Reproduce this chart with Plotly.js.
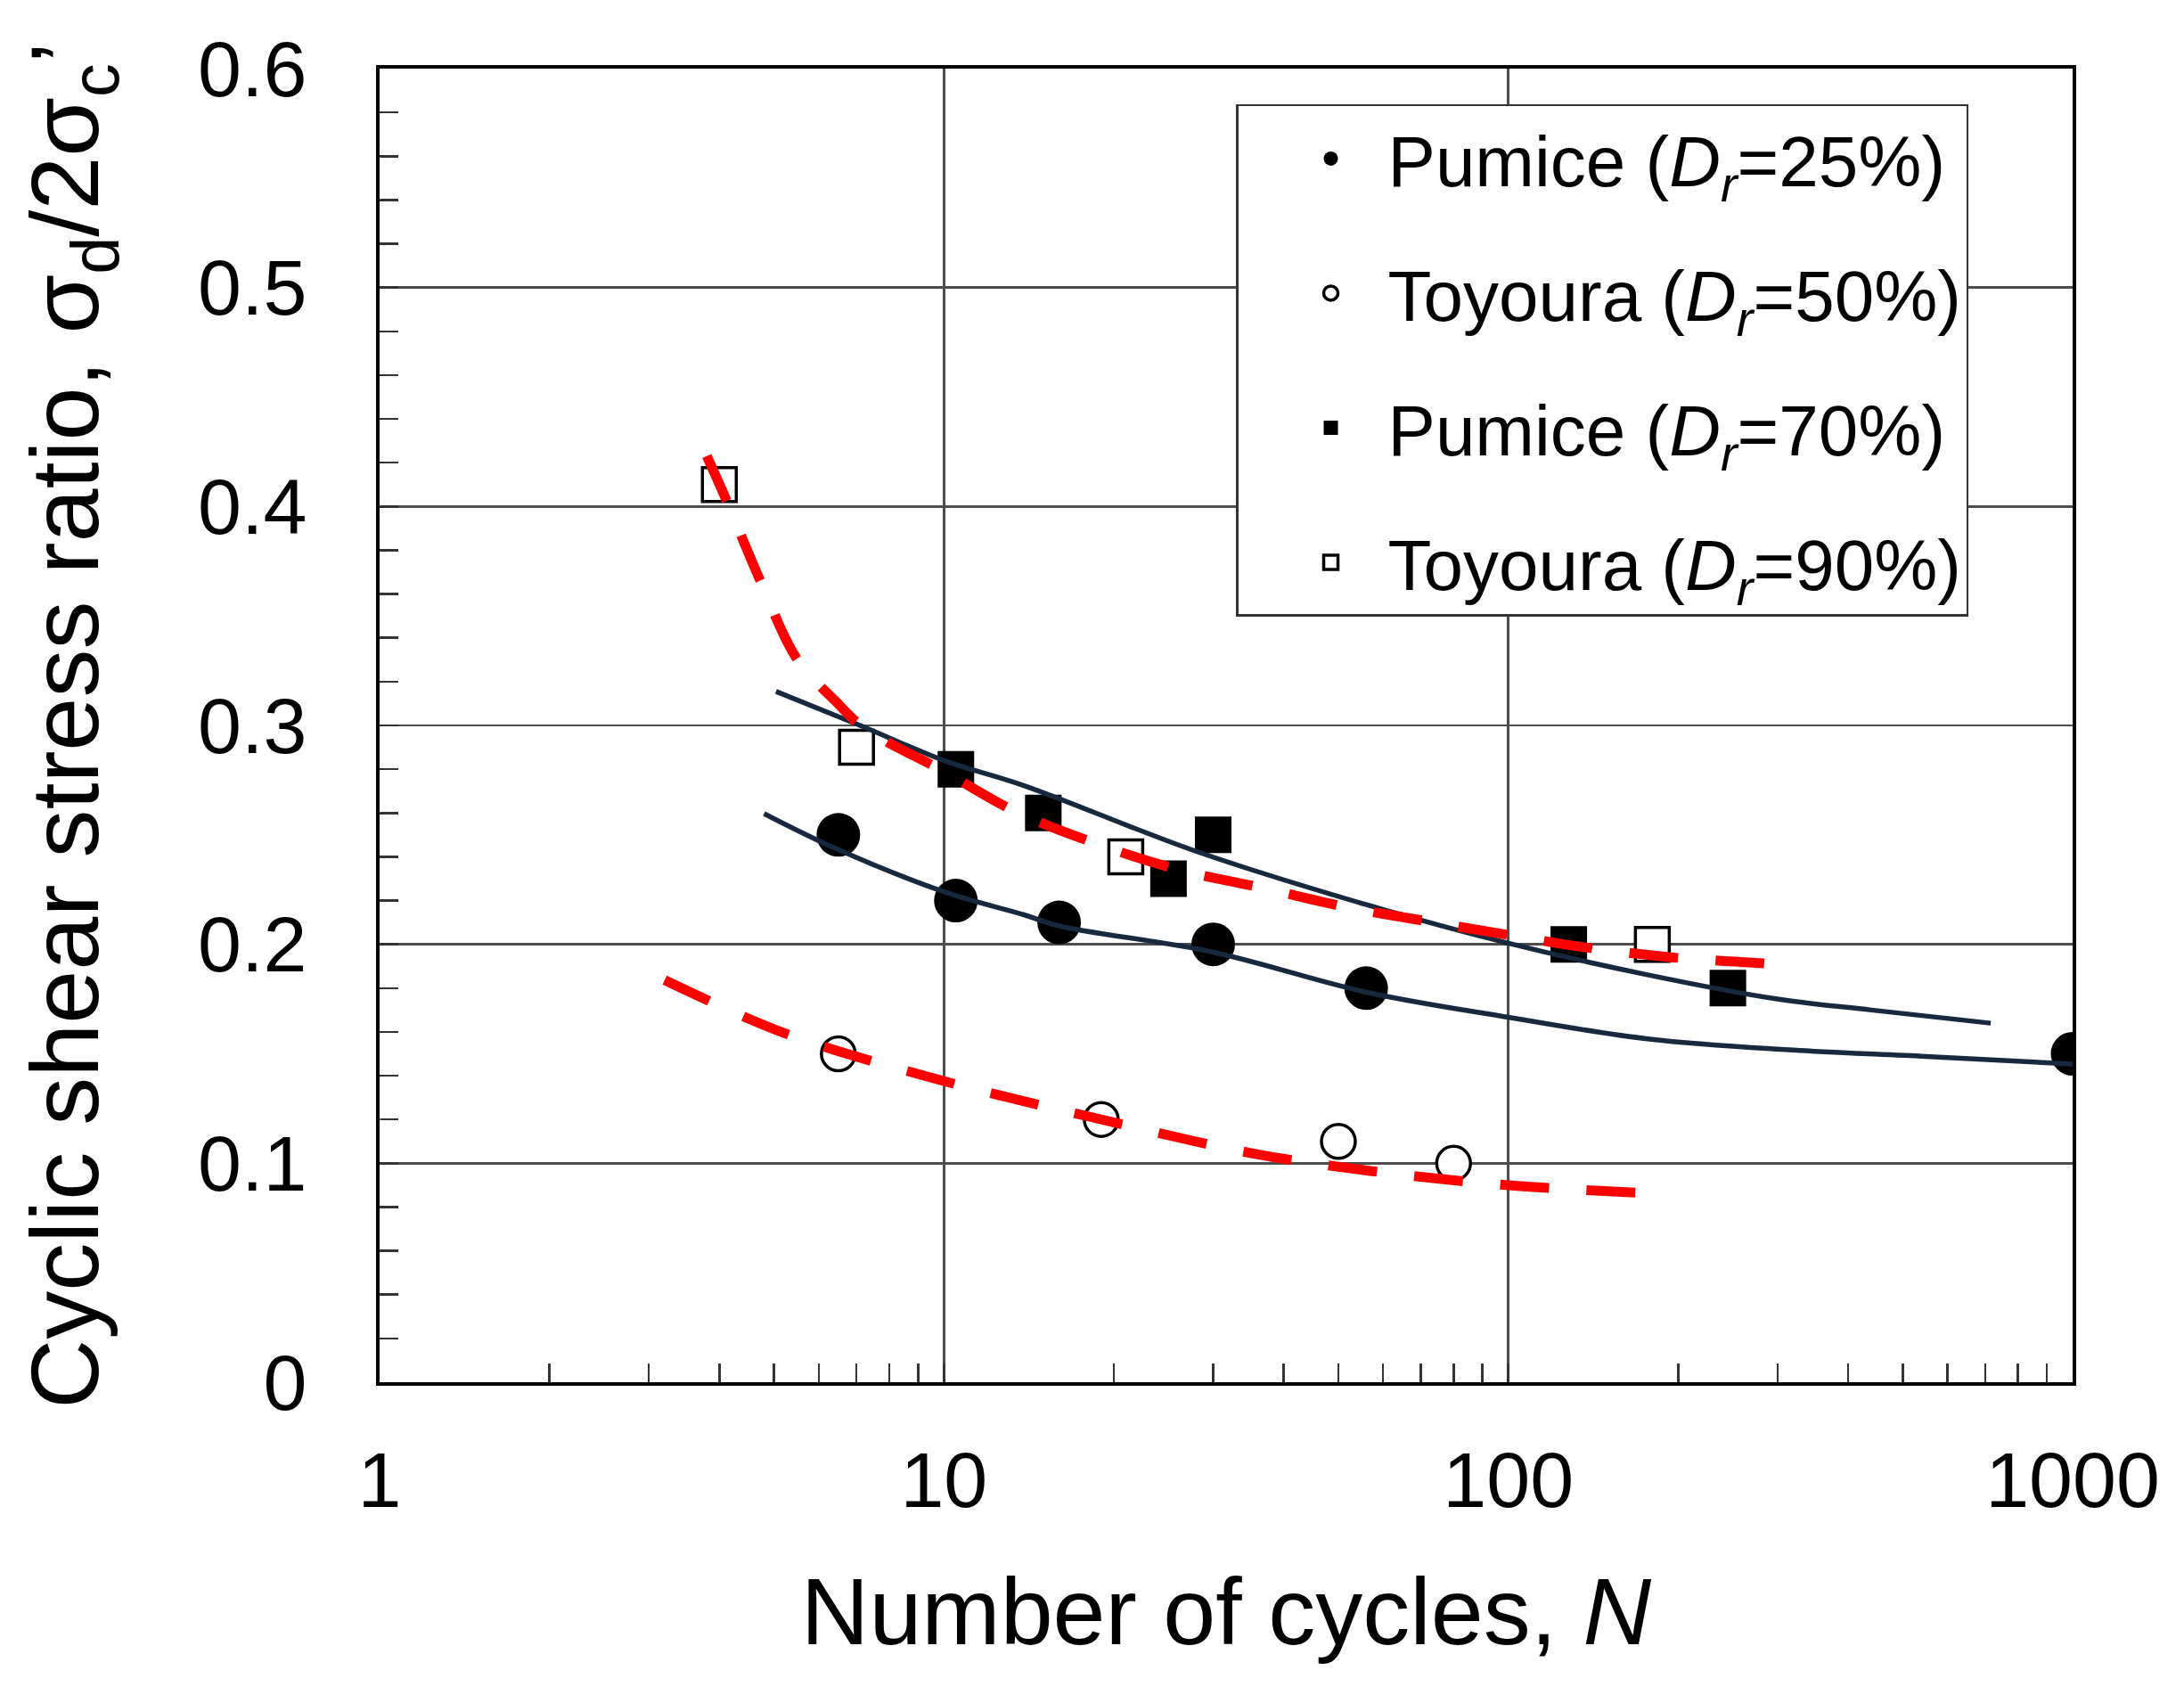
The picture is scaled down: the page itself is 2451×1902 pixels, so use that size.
<!DOCTYPE html>
<html>
<head>
<meta charset="utf-8">
<script src="https://cdn.plot.ly/plotly-3.0.1.min.js"></script>
<style>html,body{margin:0;padding:0;background:#fff;}#chart{width:2451px;height:1902px;}</style>
</head>
<body>
<div id="chart"></div>
<script>
// ---- Data ----
// Measured points
const pumice25N   = [6.5, 10.5, 16, 30, 56, 1000];
const pumice25CSR = [0.25, 0.22, 0.21, 0.20, 0.18, 0.15];

const toyoura50N   = [6.5, 19, 50, 80];
const toyoura50CSR = [0.15, 0.12, 0.11, 0.10];

const pumice70N   = [10.5, 15, 25, 30, 128, 245];
const pumice70CSR = [0.28, 0.26, 0.23, 0.25, 0.20, 0.18];

const toyoura90N   = [4.0, 7.0, 21, 180];
const toyoura90CSR = [0.41, 0.29, 0.24, 0.20];

// Fitted curves
const fitPumice25N   = [4.8, 6.4, 10, 13.9, 16, 29.9, 55.9, 100, 178, 314, 550, 1000];
const fitPumice25CSR = [0.2597, 0.244, 0.224, 0.2134, 0.2084, 0.1965, 0.1782, 0.1667, 0.1567, 0.1518, 0.1488, 0.1453];

const fitPumice70N   = [5.04, 7.1, 10, 13.9, 27.9, 55.9, 100, 175, 300, 440, 716];
const fitPumice70CSR = [0.3155, 0.300, 0.284, 0.2724, 0.2426, 0.2182, 0.2005, 0.1863, 0.175, 0.170, 0.164];

const fitToyoura90N   = [3.8, 4.13, 4.71, 5.5, 6.43, 7.2, 10, 13.3, 18.3, 25.7, 36.9, 52.2, 73.8, 106, 137, 196, 280, 309];
const fitToyoura90CSR = [0.423, 0.402, 0.367, 0.330, 0.311, 0.299, 0.279, 0.261, 0.2467, 0.2345, 0.2256, 0.2168, 0.210, 0.2032, 0.1986, 0.194, 0.1914, 0.1904];

const fitToyoura50N   = [3.2, 5.27, 9.85, 15.1, 18.3, 35.1, 57, 100, 178];
const fitToyoura50CSR = [0.1837, 0.159, 0.138, 0.126, 0.121, 0.1046, 0.0965, 0.090, 0.0863];

// Tick labels
const xTickVals = [1, 10, 100, 1000];
const xTickText = ['1', '10', '100', '1000'];
const xMinorVals = [2,3,4,5,6,7,8,9,20,30,40,50,60,70,80,90,200,300,400,500,600,700,800,900];
const yTickVals = [0, 0.1, 0.2, 0.3, 0.4, 0.5, 0.6];
const yTickText = ['0', '0.1', '0.2', '0.3', '0.4', '0.5', '0.6'];

const seriesNames = [
  'Pumice (<i>D<sub>r</sub></i>=25%)',
  'Toyoura (<i>D<sub>r</sub></i>=50%)',
  'Pumice (<i>D<sub>r</sub></i>=70%)',
  'Toyoura (<i>D<sub>r</sub></i>=90%)'
];

// ---- Styles ----
const FONT = 'Liberation Sans, Arial, sans-serif';
const navy = '#17293f';
const red = 'rgb(255,0,0)';

const traces = [
  {x: pumice25N, y: pumice25CSR, name: seriesNames[0], legendgroup: 'g1', mode: 'markers', type: 'scatter',
   marker: {symbol: 'circle', size: 49, color: '#000', line: {width: 0}}},
  {x: toyoura50N, y: toyoura50CSR, name: seriesNames[1], legendgroup: 'g2', mode: 'markers', type: 'scatter',
   marker: {symbol: 'circle', size: 38, color: '#fff', line: {width: 3.5, color: '#000'}}},
  {x: pumice70N, y: pumice70CSR, name: seriesNames[2], legendgroup: 'g3', mode: 'markers', type: 'scatter',
   marker: {symbol: 'square', size: 41, color: '#000', line: {width: 0}}},
  {x: toyoura90N, y: toyoura90CSR, name: seriesNames[3], legendgroup: 'g4', mode: 'markers', type: 'scatter',
   marker: {symbol: 'square', size: 38, color: '#fff', line: {width: 3.5, color: '#000'}}},

  {x: fitPumice25N, y: fitPumice25CSR, mode: 'lines', type: 'scatter', showlegend: false, hoverinfo: 'skip',
   line: {color: navy, width: 5.5, shape: 'spline', smoothing: 1}},
  {x: fitPumice70N, y: fitPumice70CSR, mode: 'lines', type: 'scatter', showlegend: false, hoverinfo: 'skip',
   line: {color: navy, width: 5.5, shape: 'spline', smoothing: 1}},
  {x: fitToyoura90N, y: fitToyoura90CSR, mode: 'lines', type: 'scatter', showlegend: false, hoverinfo: 'skip',
   line: {color: red, width: 11, dash: '55px,42px', shape: 'spline', smoothing: 1}},
  {x: fitToyoura50N, y: fitToyoura50CSR, mode: 'lines', type: 'scatter', showlegend: false, hoverinfo: 'skip',
   line: {color: red, width: 11, dash: '55px,42px', shape: 'spline', smoothing: 1}}
];

const gridColor = '#4d4d4d';
const layout = {
  width: 2451, height: 1902,
  margin: {l: 426, r: 125, t: 77, b: 351, autoexpand: false},
  paper_bgcolor: '#fff', plot_bgcolor: '#fff',
  font: {family: FONT, color: '#000'},
  showlegend: true,
  xaxis: {
    type: 'log', range: [0, 3], automargin: false,
    showline: true, linecolor: '#000', linewidth: 4, mirror: true,
    showgrid: true, gridcolor: gridColor, gridwidth: 2.5, zeroline: false,
    tickmode: 'array', tickvals: xTickVals, ticktext: xTickText,
    ticks: 'inside', ticklen: 21, tickwidth: 2.5, tickcolor: '#333',
    tickfont: {size: 88, family: FONT, color: '#000'},
    ticklabelstandoff: 30,
    minor: {tickmode: 'array', tickvals: xMinorVals, ticks: 'inside', ticklen: 21, tickwidth: 2.5, tickcolor: '#333', showgrid: false},
    title: {text: 'Number of cycles, <i>N</i>', font: {size: 106, family: FONT, color: '#000'}, standoff: 63}
  },
  yaxis: {
    range: [0, 0.6], automargin: false,
    showline: true, linecolor: '#000', linewidth: 4, mirror: true,
    showgrid: true, gridcolor: gridColor, gridwidth: 2.5, zeroline: false,
    tickmode: 'array', tickvals: yTickVals, ticktext: yTickText,
    ticks: 'inside', ticklen: 21, tickwidth: 2.5, tickcolor: '#333',
    tickfont: {size: 88, family: FONT, color: '#000'},
    ticklabelstandoff: 60,
    minor: {dtick: 0.02, ticks: 'inside', ticklen: 21, tickwidth: 2.5, tickcolor: '#333', showgrid: false},
    title: {text: 'Cyclic shear stress ratio, σ<sub>d</sub>/2σ<sub>c</sub>’', font: {size: 108, family: FONT, color: '#000'}, standoff: 76}
  },
  legend: {
    x: 0.5058, y: 0.9729, xanchor: 'left', yanchor: 'top',
    bgcolor: '#fff', bordercolor: '#333', borderwidth: 2.5,
    font: {size: 80, family: FONT, color: '#000'},
    itemwidth: 118, indentation: 40, tracegroupgap: 44,
    traceorder: 'grouped'
  }
};

Plotly.newPlot('chart', traces, layout, {staticPlot: true, displayModeBar: false});
</script>
</body>
</html>
